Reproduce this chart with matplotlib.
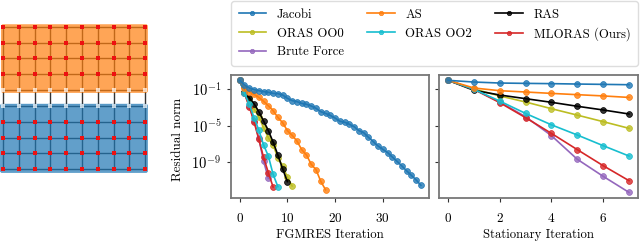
import numpy as np
import matplotlib
matplotlib.use('Agg')
import matplotlib.pyplot as plt
from matplotlib.patches import FancyBboxPatch

plt.rcParams['font.family'] = ['cmr10', 'DejaVu Serif']
plt.rcParams['mathtext.fontset'] = 'cm'
plt.rcParams['axes.unicode_minus'] = False
plt.rcParams['axes.formatter.use_mathtext'] = True

# FGMRES panel
fg_jacobi = [0.97, 0.30, 0.14, 0.092, 0.071, 0.056, 0.047, 0.036, 0.034, 0.024, 0.0104, 5.8e-3, 4.5e-3,
             2.9e-3, 2.3e-3, 1.5e-3, 8.3e-4, 3.6e-4, 2.3e-4, 1.4e-4, 7.2e-5, 3.2e-5, 2.5e-5, 1.5e-5,
             8.1e-6, 3.0e-6, 1.8e-6, 5.5e-7, 1.9e-7, 6.3e-8, 2.7e-8, 1.2e-8, 3.9e-9, 1.3e-9, 4.1e-10,
             1.2e-10, 3.8e-11, 1.2e-11, 3.1e-12]
fg_as = [0.97, 0.13, 0.051, 0.028, 0.013, 4.9e-3, 1.6e-3, 4.6e-4, 8.5e-5, 2.2e-5, 3.0e-6, 9.1e-7, 2.2e-7,
         2.5e-8, 6.5e-9, 6.1e-10, 1.6e-10, 8.5e-12, 1.0e-12]
fg_ras = [0.97, 0.047, 0.012, 2.7e-3, 3.5e-4, 3.4e-5, 3.0e-6, 1.7e-7, 6.5e-9, 1.9e-10, 7.8e-12]
fg_oo0 = [0.97, 0.047, 8.1e-3, 7.1e-4, 1.0e-4, 6.3e-6, 5.1e-7, 8.1e-8, 3.3e-9, 4.1e-10, 2.3e-11, 2.6e-12]
fg_oo2 = [0.97, 0.036, 2.5e-3, 7.9e-5, 3.5e-6, 8.1e-8, 5.0e-9, 4.9e-11, 2.2e-12]
fg_ml = [0.97, 0.036, 1.3e-3, 2.9e-5, 3.4e-7, 3.5e-9, 7.6e-11, 2.0e-12]
fg_brute = [0.97, 0.036, 1.5e-3, 3.7e-5, 4.4e-7, 1.4e-9, 1.8e-11]

# stationary panel
st_jacobi = [0.97, 0.63, 0.49, 0.45, 0.42, 0.38, 0.35, 0.32]
st_as = [0.97, 0.14, 0.071, 0.051, 0.036, 0.026, 0.019, 0.013]
st_ras = [0.97, 0.078, 0.024, 9.5e-3, 3.8e-3, 1.4e-3, 5.5e-4, 2.0e-4]
st_oo0 = [0.97, 0.11, 0.019, 4.1e-3, 7.6e-4, 1.5e-4, 2.9e-5, 5.4e-6]
st_oo2 = [0.97, 0.10, 5.2e-3, 2.3e-4, 1.3e-5, 1.0e-6, 6.8e-8, 5.0e-9]
st_ml = [0.97, 0.10, 3.5e-3, 7.9e-5, 1.5e-6, 2.5e-8, 4.4e-10, 1.0e-11]
st_brute = [0.97, 0.10, 4.1e-3, 1.0e-4, 8.5e-7, 2.2e-9, 3.0e-11, 5.2e-13]

labels = ['Jacobi', 'ORAS OO0', 'Brute Force', 'AS', 'ORAS OO2', 'RAS', 'MLORAS (Ours)']
colors = ['tab:blue', 'tab:olive', 'tab:purple', 'tab:orange', 'tab:cyan', 'black', 'tab:red']
fg_series = [fg_jacobi, fg_oo0, fg_brute, fg_as, fg_oo2, fg_ras, fg_ml]
st_series = [st_jacobi, st_oo0, st_brute, st_as, st_oo2, st_ras, st_ml]
draw_order = [2, 1, 5, 6, 4, 3, 0]

W, H = 640, 242
fig = plt.figure(figsize=(W / 100, H / 100), dpi=100)


def px_axes(x0, y0, x1, y1):
    return fig.add_axes([x0 / W, 1 - y1 / H, (x1 - x0) / W, (y1 - y0) / H])


ax1 = px_axes(231, 75, 429, 198)
ax2 = px_axes(439, 75, 638, 198)

handles = {}
for ax, series in ((ax1, fg_series), (ax2, st_series)):
    for i in draw_order:
        y = series[i]
        line, = ax.plot(range(len(y)), y, color=colors[i], lw=1.2, marker='o', ms=4.2,
                        mec=colors[i], mew=0.5, markerfacecolor=matplotlib.colors.to_rgba(colors[i], 0.8))
        handles[i] = line
    ax.set_yscale('log')
    ax.set_ylim(10 ** -12.9, 10 ** 0.57)
    ax.set_yticks([1e-1, 1e-5, 1e-9])
    ax.minorticks_off()
    ax.tick_params(axis='x', labelsize=9.5, length=3, width=0.8, color='#333333', pad=7)
    ax.tick_params(axis='y', labelsize=10.5, length=3, width=0.8, color='#333333', pad=4)
    for s in ax.spines.values():
        s.set_color('#777777')
        s.set_linewidth(1.3)

ax1.set_xlim(-1.83, 39.7)
ax1.set_xticks([0, 10, 20, 30])
ax1.set_xlabel('FGMRES Iteration', fontsize=9.2, labelpad=3)
ax1.set_ylabel('Residual norm', fontsize=9.5)
ax1.yaxis.set_label_coords((184 - 231) / 198, 0.48)

ax2.set_xlim(-0.35, 7.35)
ax2.set_xticks([0, 2, 4, 6])
ax2.set_yticklabels([])
ax2.set_xlabel('Stationary Iteration', fontsize=9.2, labelpad=3)

leg = fig.legend([handles[i] for i in range(7)], labels, ncol=3, fontsize=9.2,
                 loc='upper left', bbox_to_anchor=(231 / W, 1 - 1 / H, 407 / W, 0),
                 mode='expand', borderaxespad=0, borderpad=0.6, handlelength=2.15, labelspacing=0.52,
                 handletextpad=0.85, markerscale=0.75, edgecolor='#dddddd', framealpha=1)

# partition sketch on the left
g = px_axes(0, 0, 160, 242)
g.set_xlim(0, 160)
g.set_ylim(242, 0)
g.axis('off')

xs = np.linspace(3, 145.3, 10)
ys = np.linspace(26.7, 169.3, 10)
for y in ys:
    g.plot([xs[0], xs[-1]], [y, y], color='#333333', lw=1.0, zorder=1)
for x in xs:
    g.plot([x, x], [ys[0], ys[-1]], color='#333333', lw=1.0, zorder=1)
g.add_patch(FancyBboxPatch((2.2, 25.5), 144.5, 66.2, boxstyle='round,pad=1,rounding_size=2',
                           fc='#ff7f0e', ec='#ff7f0e', alpha=0.7, lw=0.3, zorder=2))
g.add_patch(FancyBboxPatch((1.2, 105), 145.5, 66.7, boxstyle='round,pad=1,rounding_size=2',
                           fc='#1f77b4', ec='#1f77b4', alpha=0.7, lw=0.3, zorder=2))
X, Y = np.meshgrid(xs, ys)
inner = np.r_[0:4, 6:10]
g.scatter(X[inner].ravel(), Y[inner].ravel(), s=6, marker='s', color='#ee1111', lw=0, zorder=3)
g.scatter(X[4:6].ravel(), Y[4:6].ravel(), s=6, marker='s', color='white', alpha=0.7, lw=0, zorder=3)

fig.savefig('out.png', dpi=100)
